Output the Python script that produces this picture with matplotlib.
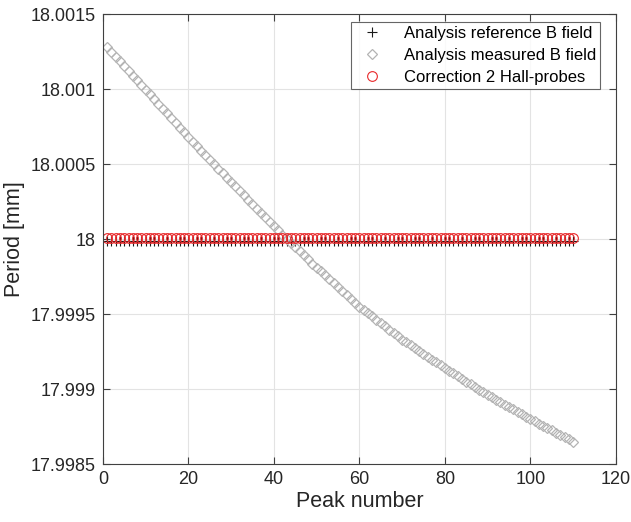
"""
Period per peak: reference analysis, measured field analysis and Hall-probe correction.
"""

import numpy as np
import matplotlib
matplotlib.use("Agg")
import matplotlib.pyplot as plt

plt.rcParams['font.family'] = ['Liberation Sans', 'DejaVu Sans']

# Peak numbers 1..110
peak_number = list(range(1, 111))

# Deviation from 18 mm, in nm
measured_dev_nm = [
    1280, 1248, 1217, 1185, 1153, 1122, 1090, 1058, 1027, 995,
    964, 932, 901, 869, 838, 806, 775, 743, 712, 680,
    650, 620, 590, 560, 530, 500, 470, 440, 410, 380,
    351, 321, 292, 262, 233, 203, 174, 144, 115, 85,
    58, 30, 3, -25, -53, -80, -108, -135, -163, -190,
    -216, -242, -268, -294, -320, -346, -372, -398, -424, -450,
    -472, -494, -516, -538, -560, -582, -604, -626, -648, -670,
    -689, -708, -727, -746, -765, -784, -803, -822, -841, -860,
    -878, -896, -914, -932, -950, -968, -986, -1004, -1022, -1040,
    -1056, -1072, -1088, -1104, -1120, -1136, -1152, -1168, -1184, -1200,
    -1215, -1230, -1245, -1260, -1275, -1290, -1305, -1320, -1335, -1350,
]
reference_dev_nm = [-10] * 110
correction_dev_nm = [5] * 110

nominal_period = 18.0
x_ticks = [0, 20, 40, 60, 80, 100, 120]
y_ticks = [17.9985, 17.999, 17.9995, 18.0, 18.0005, 18.001, 18.0015]
y_tick_labels = ['17.9985', '17.999', '17.9995', '18', '18.0005', '18.001', '18.0015']


def to_period(dev_nm):
    return nominal_period + np.array(dev_nm) * 1e-6


fig = plt.figure(figsize=(6.31, 5.22), dpi=100)
ax = fig.add_axes([0.163, 0.111, 0.813, 0.862])

ax.plot(peak_number, to_period(reference_dev_nm), linestyle='none', marker='+',
        color='#1a1a1a', markersize=6.5, markeredgewidth=0.8,
        label='Analysis reference B field')
ax.plot(peak_number, to_period(measured_dev_nm), linestyle='none', marker='D',
        markerfacecolor='none', markeredgecolor='#b4b4b4', markersize=5.5,
        markeredgewidth=0.9, label='Analysis measured B field')
ax.plot(peak_number, to_period(correction_dev_nm), linestyle='none', marker='o',
        markerfacecolor='none', markeredgecolor='#e8282a', markersize=7,
        markeredgewidth=0.8, label='Correction 2 Hall-probes')

ax.set_xlim(0, 120)
ax.set_ylim(17.9985, 18.0015)
ax.set_xticks(x_ticks)
ax.set_yticks(y_ticks)
ax.set_yticklabels(y_tick_labels)
ax.tick_params(direction='in', top=True, right=True, labelsize=13,
               color='#404040', labelcolor='#262626', length=5, width=0.8, pad=5)
ax.grid(True, color='#e3e3e3', linewidth=0.8)
ax.set_axisbelow(True)
for spine in ax.spines.values():
    spine.set_color('#404040')
    spine.set_linewidth(0.8)

ax.set_xlabel('Peak number', fontsize=15.5, color='#262626', labelpad=2)
ax.set_ylabel('Period [mm]', fontsize=15.5, color='#262626', labelpad=4)

leg = ax.legend(loc='upper right', bbox_to_anchor=(600 / 631, 1 - 22 / 522),
                bbox_transform=fig.transFigure, borderaxespad=0,
                fontsize=12, frameon=True, fancybox=False,
                borderpad=0.25, labelspacing=0.42, handletextpad=0.9,
                handlelength=2.0)
leg.get_frame().set_edgecolor('#404040')
leg.get_frame().set_linewidth(0.8)

fig.savefig('out.png', dpi=100)
plt.close(fig)
